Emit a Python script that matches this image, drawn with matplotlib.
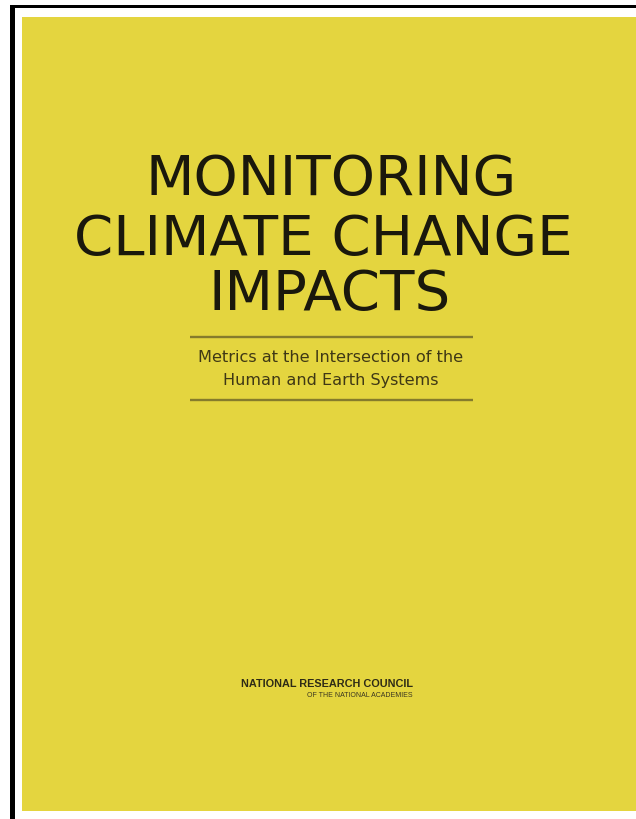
import matplotlib
matplotlib.use("Agg")
import matplotlib.pyplot as plt
from matplotlib.patches import Rectangle

# ---- content ----
title_lines = ["MONITORING", "CLIMATE CHANGE", "IMPACTS"]
subtitle_lines = ["Metrics at the Intersection of the", "Human and Earth Systems"]
publisher = "NATIONAL RESEARCH COUNCIL"
publisher_sub = "OF THE NATIONAL ACADEMIES"

# ---- layout (pixel space) ----
W, H = 636, 819
fig = plt.figure(figsize=(W / 100, H / 100), dpi=100, facecolor="white")
ax = fig.add_axes([0, 0, 1, 1])
ax.set_xlim(0, W)
ax.set_ylim(H, 0)
ax.axis("off")

# black frame (top + left)
ax.add_patch(Rectangle((10, 4.5), W - 10, 3, facecolor="black", edgecolor="none"))
ax.add_patch(Rectangle((10, 4.5), 5, H - 4.5, facecolor="black", edgecolor="none"))

# yellow cover
ax.add_patch(Rectangle((22, 17), W - 22, 811 - 17, facecolor="#E4D53F", edgecolor="none"))

title_x = [331, 323, 330]
title_baselines = [195, 255, 310]
for txt, x, yb in zip(title_lines, title_x, title_baselines):
    ax.text(x, yb, txt, ha="center", va="baseline", fontsize=40.5,
            family="DejaVu Sans", color="#1a180c")

# rules
line_col = "#857b2c"
ax.plot([190, 473], [337, 337], color=line_col, lw=1.7, solid_capstyle="butt")
ax.plot([190, 473], [400, 400], color=line_col, lw=1.7, solid_capstyle="butt")

sub_baselines = [362, 385]
for txt, yb in zip(subtitle_lines, sub_baselines):
    ax.text(331, yb, txt, ha="center", va="baseline", fontsize=11.6,
            family="DejaVu Sans", color="#3f3815")

ax.text(413, 687, publisher, ha="right", va="baseline", fontsize=7.8,
        family="Liberation Sans", weight="bold", color="#2e2b16")
ax.text(413, 697, publisher_sub, ha="right", va="baseline", fontsize=5,
        family="Liberation Sans", color="#3a3620")

fig.savefig("out.png", dpi=100, facecolor="white")
